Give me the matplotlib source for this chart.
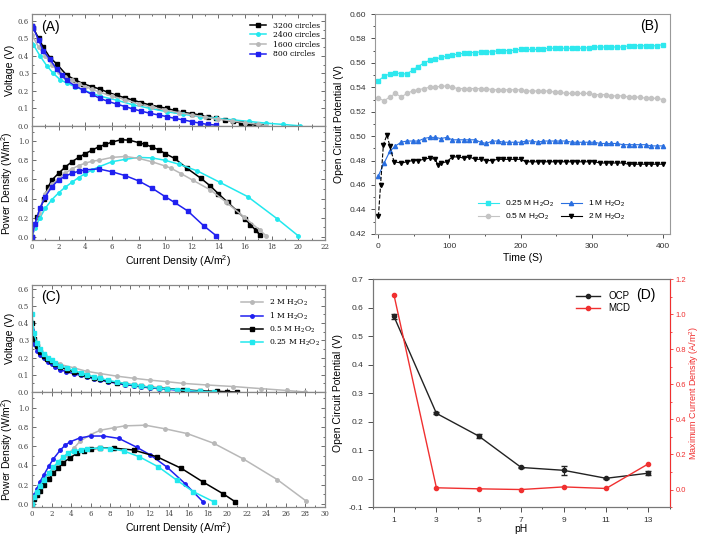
import matplotlib.pyplot as plt
from matplotlib.ticker import MultipleLocator
from matplotlib.lines import Line2D
import numpy as np

plt.rcParams['font.family'] = 'Liberation Sans'
plt.rcParams['mathtext.default'] = 'regular'

# ---- Panel A: different circle counts ----
a_labels = ['3200 circles', '2400 circles', '1600 circles', '800 circles']
a_colors = ['black', '#22e8ee', '#b8b8b8', '#2020f0']
a_markers = ['s', 'o', 'o', 's']

a_vj_3200 = [0, 0.1, 0.5, 0.85, 1.35, 1.85, 2.6, 3.2, 3.85, 4.5, 5.1, 5.7, 6.35, 7.0, 7.6, 8.2,
             8.85, 9.5, 10.1, 10.7, 11.35, 12.0, 12.6, 13.2, 13.85, 14.5, 15.1, 15.7, 16.3, 16.8, 17.2]
a_v_3200 = [0.57, 0.56, 0.50, 0.45, 0.39, 0.355, 0.29, 0.265, 0.24, 0.225, 0.21, 0.192, 0.175, 0.16,
            0.147, 0.133, 0.12, 0.11, 0.10, 0.088, 0.077, 0.07, 0.062, 0.052, 0.043, 0.034, 0.025,
            0.017, 0.01, 0.004, 0.0]
a_vj_2400 = [0, 0.1, 0.6, 1.1, 1.6, 2.1, 2.6, 3.2, 3.85, 4.5, 5.1, 6.35, 7.6, 8.85, 10.1, 11.35,
             12.6, 13.85, 15.1, 16.3, 17.6, 18.85, 20.1]
a_v_2400 = [0.47, 0.465, 0.40, 0.345, 0.30, 0.265, 0.245, 0.225, 0.205, 0.187, 0.17, 0.147, 0.12,
            0.10, 0.081, 0.066, 0.053, 0.043, 0.034, 0.025, 0.015, 0.008, 0.0]
a_vj_1600 = [0, 0.5, 1, 1.5, 2, 2.5, 3, 3.5, 4, 4.5, 5, 6, 7, 8, 9, 10, 11, 12, 13, 14, 15, 16, 17, 17.6]
a_v_1600 = [0.52, 0.45, 0.40, 0.35, 0.31, 0.28, 0.26, 0.24, 0.225, 0.21, 0.195, 0.17, 0.15, 0.125,
            0.107, 0.09, 0.076, 0.063, 0.05, 0.038, 0.028, 0.018, 0.008, 0.0]
a_vj_800 = [0, 0.1, 0.5, 0.85, 1.35, 1.85, 2.25, 2.6, 3.2, 3.85, 4.5, 5.1, 5.7, 6.35, 7.0, 7.6, 8.2,
            8.85, 9.5, 10.1, 10.7, 11.35, 12.0, 12.6, 13.2, 13.85]
a_v_800 = [0.57, 0.56, 0.49, 0.43, 0.38, 0.325, 0.29, 0.26, 0.23, 0.205, 0.18, 0.157, 0.14, 0.125,
           0.11, 0.096, 0.084, 0.072, 0.062, 0.053, 0.043, 0.034, 0.024, 0.015, 0.008, 0.004]

a_pj_3200 = [0, 0.4, 0.9, 1.2, 1.5, 2, 2.5, 3, 3.5, 4, 4.5, 5, 5.5, 6, 6.7, 7.3, 8, 8.5, 9, 9.5, 10,
             10.7, 11.6, 12.7, 13.4, 14, 14.7, 15.4, 16, 16.4, 16.8, 17.1]
a_p_3200 = [0, 0.21, 0.40, 0.52, 0.595, 0.665, 0.73, 0.785, 0.83, 0.87, 0.905, 0.94, 0.965, 0.99,
            1.015, 1.01, 0.985, 0.965, 0.94, 0.91, 0.87, 0.82, 0.72, 0.61, 0.53, 0.45, 0.36, 0.27,
            0.19, 0.125, 0.07, 0.02]
a_pj_2400 = [0, 0.2, 0.6, 1, 1.5, 2, 2.5, 3, 3.5, 4, 4.5, 5, 6, 7, 8, 9, 10, 11, 12.4, 14.1, 16.2, 18.4, 20.0]
a_p_2400 = [0, 0.09, 0.2, 0.30, 0.39, 0.46, 0.52, 0.57, 0.62, 0.66, 0.70, 0.73, 0.785, 0.81, 0.83,
            0.825, 0.80, 0.76, 0.69, 0.57, 0.42, 0.19, 0.01]
a_pj_1600 = [0, 0.5, 1, 1.5, 2, 2.5, 3, 3.5, 4, 4.5, 5, 6, 7, 8, 9, 10, 10.4, 11.2, 12.1, 13.4,
             14.6, 15.9, 17.1, 17.6]
a_p_1600 = [0, 0.25, 0.45, 0.55, 0.61, 0.665, 0.71, 0.745, 0.77, 0.79, 0.80, 0.83, 0.84, 0.82,
            0.785, 0.74, 0.72, 0.66, 0.59, 0.49, 0.36, 0.21, 0.07, 0.01]
a_pj_800 = [0, 0.2, 0.6, 1, 1.5, 2, 2.5, 3, 3.5, 4, 5, 6, 7, 8, 9, 10, 10.7, 11.7, 12.9, 13.85]
a_p_800 = [0, 0.13, 0.30, 0.42, 0.525, 0.595, 0.635, 0.665, 0.685, 0.70, 0.71, 0.68, 0.64, 0.585,
           0.51, 0.42, 0.36, 0.27, 0.115, 0.01]

# ---- Panel C: different H2O2 concentrations ----
c_labels = ['2 M H$_2$O$_2$', '1 M H$_2$O$_2$', '0.5 M H$_2$O$_2$', '0.25 M H$_2$O$_2$']
c_colors = ['#b8b8b8', '#2020f0', 'black', '#22e8ee']
c_markers = ['o', 'o', 's', 's']

c_vj_2 = [0, 0.2, 0.5, 1.2, 2, 2.9, 4.3, 5.6, 7, 8.7, 10.4, 12.1, 13.8, 15.5, 17.9, 20.6, 23.4, 26.1, 28]
c_v_2 = [0.37, 0.3, 0.26, 0.22, 0.185, 0.16, 0.14, 0.12, 0.107, 0.092, 0.08, 0.069, 0.06, 0.05,
         0.041, 0.032, 0.02, 0.009, 0.0]
c_vj_1 = [0, 0.2, 0.5, 0.8, 1.2, 1.6, 2, 2.4, 2.9, 3.5, 4.3, 5, 5.6, 6.3, 7, 7.8, 8.7, 9.5, 10.4,
          11.2, 12.1, 13, 13.8, 14.8, 15.9, 16.7, 17.5]
c_v_1 = [0.36, 0.28, 0.24, 0.215, 0.195, 0.175, 0.16, 0.145, 0.13, 0.118, 0.106, 0.096, 0.088,
         0.078, 0.069, 0.06, 0.05, 0.043, 0.037, 0.03, 0.024, 0.02, 0.017, 0.011, 0.006, 0.003, 0.0]
c_vj_05 = [0, 0.17, 0.5, 0.8, 1.2, 1.5, 1.9, 2.4, 2.9, 3.6, 4.3, 5, 5.6, 6.3, 7, 7.8, 8.7, 9.5,
           10.4, 11.2, 12.1, 13, 13.8, 15.5, 17.2, 18.9, 20, 21]
c_v_05 = [0.40, 0.31, 0.265, 0.235, 0.21, 0.193, 0.178, 0.16, 0.145, 0.13, 0.116, 0.103, 0.092,
          0.082, 0.073, 0.063, 0.054, 0.047, 0.041, 0.034, 0.028, 0.024, 0.02, 0.013, 0.007,
          0.004, 0.002, 0.0]
c_vj_025 = [0, 0.2, 0.5, 0.8, 1.2, 1.6, 2, 2.4, 2.9, 3.6, 4.3, 5, 5.6, 6.3, 7, 7.8, 8.7, 9.5,
            10.4, 11.2, 12.1, 13, 13.8, 14.8, 15.9, 17.2, 18.6]
c_v_025 = [0.45, 0.34, 0.285, 0.25, 0.22, 0.2, 0.183, 0.167, 0.153, 0.138, 0.125, 0.112, 0.10,
           0.089, 0.079, 0.068, 0.058, 0.049, 0.041, 0.034, 0.028, 0.023, 0.019, 0.014, 0.009,
           0.004, 0.0]

c_pj_2 = [0, 0.5, 1, 1.5, 2, 2.6, 3, 3.6, 4.3, 4.9, 6, 7, 8.35, 9.5, 11.6, 13.6, 15.9, 18.6, 21.6, 25.1, 28.1]
c_p_2 = [0, 0.11, 0.19, 0.26, 0.33, 0.39, 0.44, 0.51, 0.58, 0.65, 0.72, 0.765, 0.79, 0.81, 0.817,
         0.78, 0.73, 0.63, 0.47, 0.255, 0.03]
c_pj_1 = [0, 0.2, 0.5, 0.8, 1.2, 1.7, 2.2, 2.9, 3.4, 3.9, 4.9, 6, 7.3, 8.9, 10.7, 12.1, 13.8, 15.7, 17.5]
c_p_1 = [0, 0.09, 0.16, 0.23, 0.30, 0.39, 0.47, 0.56, 0.61, 0.645, 0.685, 0.705, 0.705, 0.68,
         0.59, 0.51, 0.385, 0.21, 0.025]
c_pj_05 = [0, 0.2, 0.5, 0.8, 1.2, 1.7, 2.2, 2.7, 3.2, 3.9, 4.6, 5.3, 6, 7, 8.35, 10.4, 12.8, 15.3,
           17.5, 19.6, 20.8]
c_p_05 = [0, 0.05, 0.09, 0.14, 0.195, 0.26, 0.32, 0.375, 0.43, 0.48, 0.525, 0.55, 0.57, 0.58,
          0.58, 0.56, 0.49, 0.37, 0.23, 0.105, 0.025]
c_pj_025 = [0, 0.2, 0.5, 0.8, 1.2, 1.7, 2.2, 2.7, 3.2, 3.7, 4.3, 5, 5.6, 7, 8, 9.4, 11, 12.95,
            14.8, 16.5, 18.6]
c_p_025 = [0, 0.07, 0.13, 0.19, 0.25, 0.32, 0.385, 0.44, 0.49, 0.525, 0.55, 0.565, 0.575, 0.58,
           0.575, 0.55, 0.49, 0.385, 0.25, 0.13, 0.025]

# ---- Panel B: OCP vs time ----
b_time = list(range(0, 401, 8))
b_025 = [0.5455, 0.549, 0.551, 0.552, 0.551, 0.551, 0.554, 0.557, 0.560, 0.562, 0.563, 0.5645,
         0.5655, 0.5665, 0.567, 0.568, 0.5685, 0.5685, 0.569, 0.569, 0.569, 0.570, 0.570, 0.570,
         0.5705, 0.571, 0.571, 0.571, 0.571, 0.5715, 0.572, 0.572, 0.572, 0.572, 0.572, 0.572,
         0.572, 0.5725, 0.573, 0.573, 0.573, 0.573, 0.573, 0.573, 0.574, 0.574, 0.574, 0.574,
         0.574, 0.574, 0.575]
b_05 = [0.531, 0.529, 0.532, 0.535, 0.532, 0.535, 0.537, 0.538, 0.539, 0.540, 0.540, 0.541, 0.541,
        0.540, 0.539, 0.539, 0.539, 0.539, 0.539, 0.539, 0.538, 0.538, 0.538, 0.538, 0.538, 0.538,
        0.537, 0.537, 0.537, 0.537, 0.537, 0.536, 0.536, 0.535, 0.535, 0.535, 0.535, 0.535, 0.534,
        0.534, 0.534, 0.533, 0.533, 0.533, 0.532, 0.532, 0.532, 0.531, 0.531, 0.531, 0.530]
b_1 = [0.4676, 0.478, 0.4875, 0.492, 0.495, 0.496, 0.496, 0.496, 0.498, 0.499, 0.499, 0.498, 0.499,
       0.497, 0.497, 0.497, 0.497, 0.497, 0.495, 0.494, 0.496, 0.496, 0.495, 0.495, 0.495, 0.495,
       0.496, 0.496, 0.495, 0.496, 0.496, 0.496, 0.496, 0.496, 0.495, 0.495, 0.495, 0.495, 0.495,
       0.494, 0.494, 0.494, 0.494, 0.493, 0.493, 0.493, 0.493, 0.493, 0.492, 0.492, 0.492]
b_time_2 = [0, 3, 7, 12, 16, 22, 32, 40, 48, 56, 64, 72, 80, 84, 88, 96, 104, 112, 120, 128, 136,
            144, 152, 160, 168, 176, 184, 192, 200, 208, 216, 224, 232, 240, 248, 256, 264, 272,
            280, 288, 296, 304, 312, 320, 328, 336, 344, 352, 360, 368, 376, 384, 392, 400]
b_2 = [0.4344, 0.46, 0.493, 0.501, 0.492, 0.479, 0.478, 0.479, 0.480, 0.480, 0.481, 0.482, 0.481,
       0.476, 0.478, 0.479, 0.483, 0.483, 0.482, 0.483, 0.481, 0.481, 0.480, 0.480, 0.481, 0.481,
       0.481, 0.481, 0.481, 0.479, 0.479, 0.479, 0.479, 0.479, 0.479, 0.479, 0.479, 0.479, 0.479,
       0.479, 0.479, 0.479, 0.478, 0.478, 0.478, 0.478, 0.478, 0.477, 0.477, 0.477, 0.477, 0.477,
       0.477, 0.477]

# ---- Panel D: pH ----
d_ph = [1, 3, 5, 7, 9, 11, 13]
d_ocp = [0.569, 0.229, 0.149, 0.039, 0.029, 0.001, 0.019]
d_ocp_err = [0.008, 0.003, 0.008, 0.002, 0.015, 0.002, 0.006]
d_mcd = [1.11, 0.01, 0.004, 0.0, 0.015, 0.006, 0.147]

fig = plt.figure(figsize=(7.02, 5.4), dpi=100)

serif = 'DejaVu Serif'
lab_fs = 7.5
red = '#f03030'


def style_iv(ax, xmax, ymin, ymax, ymaj, ymin_loc, show_x):
    ax.set_xlim(0, xmax)
    ax.set_ylim(ymin, ymax)
    ax.xaxis.set_major_locator(MultipleLocator(2))
    ax.xaxis.set_minor_locator(MultipleLocator(1))
    ax.yaxis.set_major_locator(MultipleLocator(ymaj))
    ax.yaxis.set_minor_locator(MultipleLocator(ymin_loc))
    ax.tick_params(which='both', direction='in', top=True, right=True, colors='#555555',
                   labelsize=5, labelcolor='#444444', width=0.6, pad=2)
    ax.tick_params(which='major', length=3)
    ax.tick_params(which='minor', length=1.5)
    for lab in ax.get_xticklabels() + ax.get_yticklabels():
        lab.set_fontfamily(serif)
    for s in ax.spines.values():
        s.set_color('#888888')
        s.set_linewidth(0.9)
    if not show_x:
        ax.tick_params(labelbottom=False)
    ax.yaxis.set_major_formatter(plt.FormatStrFormatter('%.1f'))


def draw_series(ax, xs, ys, colors, markers, labels=None):
    for i, (x, y) in enumerate(zip(xs, ys)):
        ax.plot(x, y, color=colors[i], marker=markers[i], markersize=2.5, linewidth=1.1,
                label=None if labels is None else labels[i])


# Panel A
axA1 = fig.add_axes([0.0456, 0.767, 0.4174, 0.207])
axA2 = fig.add_axes([0.0456, 0.556, 0.4174, 0.211])
draw_series(axA1, [a_vj_3200, a_vj_2400, a_vj_1600, a_vj_800],
            [a_v_3200, a_v_2400, a_v_1600, a_v_800], a_colors, a_markers, a_labels)
draw_series(axA2, [a_pj_3200, a_pj_2400, a_pj_1600, a_pj_800],
            [a_p_3200, a_p_2400, a_p_1600, a_p_800], a_colors, a_markers)
style_iv(axA1, 22, 0, 0.64, 0.1, 0.05, False)
style_iv(axA2, 22, -0.03, 1.16, 0.2, 0.1, True)
axA1.set_ylabel('Voltage (V)', fontsize=lab_fs)
axA2.set_ylabel('Power Density (W/m$^2$)', fontsize=lab_fs)
axA1.yaxis.set_label_coords(-0.058, 0.5)
axA2.yaxis.set_label_coords(-0.058, 0.5)
axA2.set_xlabel('Current Density (A/m$^2$)', fontsize=lab_fs, labelpad=2)
axA1.text(0.03, 0.95, '(A)', transform=axA1.transAxes, fontsize=10, va='top')
axA1.legend(loc='upper right', bbox_to_anchor=(1.0, 0.98), frameon=False,
            prop={'family': serif, 'size': 5.5}, handlelength=2.2, labelspacing=0.2,
            borderaxespad=0.3)

# Panel C
axC1 = fig.add_axes([0.0456, 0.274, 0.4174, 0.198])
axC2 = fig.add_axes([0.0456, 0.061, 0.4174, 0.213])
draw_series(axC1, [c_vj_2, c_vj_1, c_vj_05, c_vj_025], [c_v_2, c_v_1, c_v_05, c_v_025],
            c_colors, c_markers, c_labels)
draw_series(axC2, [c_pj_2, c_pj_1, c_pj_05, c_pj_025], [c_p_2, c_p_1, c_p_05, c_p_025],
            c_colors, c_markers)
style_iv(axC1, 30, 0, 0.62, 0.1, 0.05, False)
style_iv(axC2, 30, -0.03, 1.16, 0.2, 0.1, True)
axC1.set_ylabel('Voltage (V)', fontsize=lab_fs)
axC2.set_ylabel('Power Density (W/m$^2$)', fontsize=lab_fs)
axC1.yaxis.set_label_coords(-0.058, 0.5)
axC2.yaxis.set_label_coords(-0.058, 0.5)
axC2.set_xlabel('Current Density (A/m$^2$)', fontsize=lab_fs, labelpad=2)
axC1.text(0.03, 0.95, '(C)', transform=axC1.transAxes, fontsize=10, va='top')
axC1.legend(loc='upper right', bbox_to_anchor=(1.0, 0.93), frameon=False,
            prop={'family': serif, 'size': 5.5}, handlelength=2.8, labelspacing=0.35,
            borderaxespad=0.3)

# Panel B
axB = fig.add_axes([0.534, 0.567, 0.42, 0.407])
axB.plot(b_time, b_025, color='#2ee8ee', marker='s', markersize=3, linewidth=0.8,
         label='0.25 M H$_2$O$_2$')
axB.plot(b_time, b_05, color='#c4c4c4', marker='o', markersize=3, linewidth=0.8,
         label='0.5 M H$_2$O$_2$')
axB.plot(b_time, b_1, color='#2a6fe0', marker='^', markersize=3, linewidth=0.8,
         label='1 M H$_2$O$_2$')
axB.plot(b_time_2[:6], b_2[:6], color='black', linestyle='--', linewidth=0.8)
axB.plot(b_time_2[5:], b_2[5:], color='black', linewidth=0.8)
axB.plot(b_time_2, b_2, color='black', marker='v', markersize=3, linestyle='none')
axB.plot([], [], color='black', marker='v', markersize=3, linewidth=0.8, label='2 M H$_2$O$_2$')
axB.set_xlim(-5, 410)
axB.set_ylim(0.42, 0.60)
axB.xaxis.set_major_locator(MultipleLocator(100))
axB.xaxis.set_minor_locator(MultipleLocator(50))
axB.yaxis.set_major_locator(MultipleLocator(0.02))
axB.yaxis.set_minor_locator(MultipleLocator(0.01))
axB.yaxis.set_major_formatter(plt.FormatStrFormatter('%.2f'))
axB.tick_params(which='both', direction='out', labelsize=6, width=0.6, colors='#333333')
axB.tick_params(which='major', length=3)
axB.tick_params(which='minor', length=1.5)
for s in axB.spines.values():
    s.set_color('#999999')
    s.set_linewidth(0.8)
axB.set_xlabel('Time (S)', fontsize=lab_fs, labelpad=2)
axB.set_ylabel('Open Circuit Potential (V)', fontsize=lab_fs, labelpad=4)
axB.text(0.93, 0.945, '(B)', transform=axB.transAxes, fontsize=10, ha='center', va='center')
h, l = axB.get_legend_handles_labels()
axB.legend(h, l, loc='center', bbox_to_anchor=(0.6, 0.105), ncol=2, frameon=False, fontsize=6,
           handlelength=2.5, columnspacing=0.8, labelspacing=0.3)

# Panel D
axD = fig.add_axes([0.531, 0.061, 0.423, 0.422])
axD2 = axD.twinx()
axD.errorbar(d_ph, d_ocp, yerr=d_ocp_err, color='#222222', marker='o', markersize=3,
             linewidth=1.0, capsize=2.5, elinewidth=0.8)
axD2.plot(d_ph, d_mcd, color=red, marker='o', markersize=3, linewidth=1.0)
axD.set_xlim(0, 14)
axD.set_ylim(-0.1, 0.7)
axD2.set_ylim(-0.1, 1.2)
axD.set_xticks(d_ph)
axD.xaxis.set_minor_locator(MultipleLocator(1))
axD.yaxis.set_major_locator(MultipleLocator(0.1))
axD.yaxis.set_major_formatter(plt.FormatStrFormatter('%.1f'))
axD2.set_yticks([0.0, 0.2, 0.4, 0.6, 0.8, 1.0, 1.2])
axD2.yaxis.set_minor_locator(MultipleLocator(0.1))
axD2.yaxis.set_major_formatter(plt.FormatStrFormatter('%.1f'))
axD.tick_params(which='both', direction='out', labelsize=6, width=0.6, colors='#333333')
axD.tick_params(which='minor', length=1.5)
axD2.tick_params(which='both', direction='out', labelsize=5.5, width=0.6, colors=red, pad=1.5)
axD2.tick_params(which='major', length=2.5)
axD2.tick_params(which='minor', length=1.5)
for s in axD.spines.values():
    s.set_color('#777777')
    s.set_linewidth(0.8)
for name, s in axD2.spines.items():
    s.set_color('#777777')
    s.set_linewidth(0.8)
axD2.spines['right'].set_color(red)
axD.set_xlabel('pH', fontsize=lab_fs, labelpad=0)
axD.set_ylabel('Open Circuit Potential (V)', fontsize=lab_fs, labelpad=4)
axD2.set_ylabel('Maximum Current Density (A/m$^2$)', fontsize=6.5, color=red)
axD2.yaxis.set_label_coords(1.058, 0.5)
axD.text(0.92, 0.93, '(D)', transform=axD.transAxes, fontsize=10, ha='center', va='center')
d_handles = [Line2D([], [], color='#222222', marker='o', markersize=3, linewidth=1.0),
             Line2D([], [], color=red, marker='o', markersize=3, linewidth=1.0)]
axD2.legend(d_handles, ['OCP', 'MCD'], loc='upper left', bbox_to_anchor=(0.655, 0.985),
            frameon=False, fontsize=7, handlelength=2.5, labelspacing=0.2)

fig.savefig('out.png', dpi=100)
